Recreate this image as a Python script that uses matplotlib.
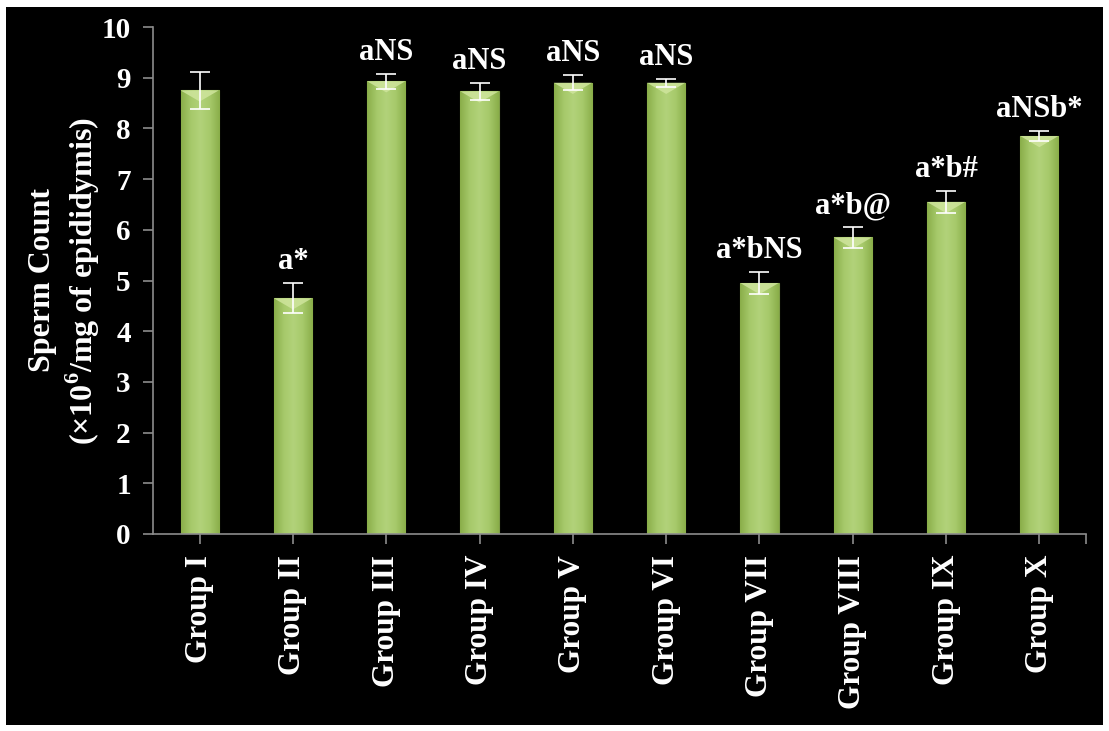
import numpy as np
import matplotlib.pyplot as plt
from matplotlib.patches import Rectangle, Polygon
from matplotlib.colors import LinearSegmentedColormap

groups = ["Group I", "Group II", "Group III", "Group IV", "Group V",
          "Group VI", "Group VII", "Group VIII", "Group IX", "Group X"]
counts = [8.75, 4.65, 8.93, 8.73, 8.90, 8.90, 4.95, 5.85, 6.55, 7.85]
errors = [0.37, 0.30, 0.15, 0.17, 0.15, 0.08, 0.22, 0.20, 0.22, 0.10]
marks = ["", "a*", "aNS", "aNS", "aNS", "aNS", "a*bNS", "a*b@", "a*b#", "aNSb*"]

plt.rcParams['font.family'] = ['Liberation Serif', 'DejaVu Serif']
plt.rcParams['font.weight'] = 'bold'

fig = plt.figure(figsize=(11.09, 7.31), dpi=100)
fig.patch.set_facecolor('white')
fig.patches.append(Rectangle((6 / 1109, 6 / 731), 1 - 12 / 1109, 1 - 13 / 731,
                             transform=fig.transFigure, facecolor='black',
                             edgecolor='none', zorder=-5))

ax = fig.add_axes([153 / 1109, 1 - 534 / 731, (1086 - 153) / 1109, (534 - 27) / 731])
ax.set_facecolor('black')

x = np.arange(len(groups))
width = 0.41
bars = ax.bar(x, counts, width=width, color='#a3c664', edgecolor='#7f9d48',
              linewidth=0.8, zorder=2)

# horizontal shading across each bar, plus the light bevel at the top
cmap = LinearSegmentedColormap.from_list('g', ['#8aae4a', '#a6c96a', '#b2d27a', '#a6c96a', '#8aae4a'])
grad = np.linspace(0, 1, 64).reshape(1, -1)
bevel = 0.22
for b in bars:
    x0, w, h = b.get_x(), b.get_width(), b.get_height()
    im = ax.imshow(grad, cmap=cmap, aspect='auto', zorder=2.1,
                   extent=[x0, x0 + w, 0, h])
    im.set_clip_path(b)
    ax.add_patch(Polygon([(x0, h), (x0 + w, h), (x0 + w / 2, h - bevel)],
                         closed=True, facecolor='#cfe59d', edgecolor='none',
                         alpha=0.85, zorder=2.2))

ax.errorbar(x, counts, yerr=errors, fmt='none', ecolor='white', elinewidth=1.2,
            capsize=7, capthick=1.2, zorder=3)

for xi, c, e, m in zip(x, counts, errors, marks):
    if m:
        ax.annotate(m, (xi, c + e), xytext=(0, 5), textcoords='offset points',
                    ha='center', va='bottom', color='white', fontsize=22,
                    fontweight='bold')

ax.set_xlim(-0.5, len(groups) - 0.5)
ax.set_ylim(0, 10)
ax.set_yticks(range(0, 11))
ax.set_xticks(x)
ax.set_xticklabels(groups, rotation=90)
ax.set_xticks([len(groups) - 0.5], minor=True)

for s in ['top', 'right']:
    ax.spines[s].set_visible(False)
for s in ['left', 'bottom']:
    ax.spines[s].set_color('#8c8c8c')
    ax.spines[s].set_linewidth(1.2)

ax.tick_params(axis='both', colors='#8c8c8c', length=7, width=1.2, direction='out',
               labelcolor='white')
ax.tick_params(axis='x', which='minor', colors='#8c8c8c', length=7, width=1.2)
ax.tick_params(axis='y', pad=9, labelsize=21)
ax.tick_params(axis='x', pad=8, labelsize=22.5)
for t in ax.get_xticklabels() + ax.get_yticklabels():
    t.set_fontweight('bold')

ax.set_ylabel("Sperm Count\n(×10$^{\\mathregular{6}}$/mg of epididymis)", color='white',
              fontsize=23, fontweight='bold', labelpad=0, linespacing=1.2)

fig.savefig('out.png', dpi=100, facecolor=fig.get_facecolor())
